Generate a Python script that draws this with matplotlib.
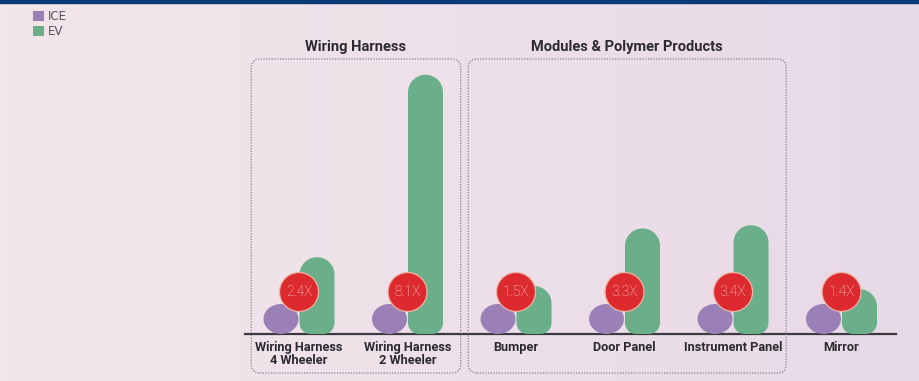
import numpy as np
import matplotlib.pyplot as plt
from matplotlib.patches import Ellipse, PathPatch, FancyBboxPatch, Patch
from matplotlib.path import Path

# data: ICE content normalised to 1, EV content as a multiple of ICE
categories = [
    "Wiring Harness\n4 Wheeler",
    "Wiring Harness\n2 Wheeler",
    "Bumper",
    "Door Panel",
    "Instrument Panel",
    "Mirror",
]
ice_values = [1.0, 1.0, 1.0, 1.0, 1.0, 1.0]
ev_values = [2.4, 8.1, 1.5, 3.3, 3.4, 1.4]
ratio_labels = ["2.4X", "8.1X", "1.5X", "3.3X", "3.4X", "1.4X"]
groups = [("Wiring Harness", 0, 1), ("Modules & Polymer Products", 2, 4)]

ICE_COLOR = "#9a80b6"
EV_COLOR = "#6aae8a"
RED = "#dd2a2e"
TEXT = "#2a2a30"

W, H = 919, 381
# one category step = 108.5 px, one value unit = 32 px, baseline at y=334 px
SX, SY = 108.5, 32.0
X0, Y0 = 299.0, 334.0

fig = plt.figure(figsize=(W / 100, H / 100), dpi=100)
ax = fig.add_axes([0, 0, 1, 1])
ax.set_xlim(-X0 / SX, (W - X0) / SX)
ax.set_ylim(-(H - Y0) / SY, Y0 / SY)
ax.axis("off")

# soft background gradient
grad = np.linspace(0, 1, 256)[None, :]
c1 = np.array([0.953, 0.902, 0.918])
c2 = np.array([0.906, 0.855, 0.906])
img = c1[None, None, :] * (1 - grad[..., None]) + c2[None, None, :] * grad[..., None]
ax.imshow(img, extent=[0, 1, 0, 1], transform=ax.transAxes, aspect="auto", zorder=0)

# dark top rule
fig.patches.append(plt.Rectangle((0, 1 - 2.5 / H), 1, 2.5 / H, transform=fig.transFigure,
                                 color="#0b3a78", zorder=10))


def capsule(cx, width, height, r_top, r_bot):
    """Bar with a rounded top (semi-ellipse) and rounded bottom corners."""
    rx = width / 2
    ry_t = min(r_top, height / 2)
    rbx, rby = r_bot
    pts = []
    t = np.linspace(np.pi, 1.5 * np.pi, 12)
    pts += list(zip(cx - rx + rbx + rbx * np.cos(t), rby + rby * np.sin(t)))
    t = np.linspace(1.5 * np.pi, 2 * np.pi, 12)
    pts += list(zip(cx + rx - rbx + rbx * np.cos(t), rby + rby * np.sin(t)))
    t = np.linspace(0, np.pi, 40)
    pts += list(zip(cx + rx * np.cos(t), height - ry_t + ry_t * np.sin(t)))
    pts.append(pts[0])
    codes = [Path.MOVETO] + [Path.LINETO] * (len(pts) - 2) + [Path.CLOSEPOLY]
    return Path(pts, codes)


bar_w = 35 / SX
half_gap = 18 / SX
ice_h = 30 / SY
for i, (ice, ev, lab) in enumerate(zip(ice_values, ev_values, ratio_labels)):
    ax.add_patch(Ellipse((i - half_gap, ice * ice_h / 2), bar_w, ice * ice_h,
                         facecolor=ICE_COLOR, edgecolor="none", zorder=3))
    path = capsule(i + half_gap, bar_w, ev, 17.5 / SY, (11 / SX, 11 / SY))
    ax.add_patch(PathPatch(path, facecolor=EV_COLOR, edgecolor="none", zorder=3))
    ax.add_patch(Ellipse((i, 42 / SY), 39 / SX, 39 / SY, facecolor=RED,
                         edgecolor="#f0b4a4", linewidth=0.9, zorder=4))
    ax.text(i, 42 / SY, lab, ha="center", va="center", fontsize=10,
            color="#f9d6d6", family="Roboto", weight="light", zorder=5)

# baseline
ax.plot([-0.5, len(categories) - 0.5], [0, 0], color="#3a3a40", linewidth=1.6, zorder=2)

# category labels
for i, cat in enumerate(categories):
    ax.text(i, -7 / SY, cat, ha="center", va="top", fontsize=9.2, weight="bold",
            family="Roboto", color=TEXT, linespacing=0.95, zorder=5)

# group boxes and titles
box_top = (Y0 - 59) / SY
box_bot = -(373 - Y0) / SY
for title, a, b in groups:
    left = a - 0.44
    right = b + 0.49
    box = FancyBboxPatch((left, box_bot), right - left, box_top - box_bot,
                         boxstyle="round,pad=0,rounding_size=0.08",
                         mutation_aspect=SX / SY,
                         facecolor="none", edgecolor="#8a7e92", linewidth=0.9,
                         linestyle=(0, (1, 1.2)), zorder=2)
    ax.add_patch(box)
    ax.text((left + right) / 2, (Y0 - 47) / SY, title, ha="center", va="center",
            fontsize=10.5, weight="bold", family="Roboto", color=TEXT)

# legend
handles = [Patch(facecolor=ICE_COLOR, edgecolor="none", label="ICE"),
           Patch(facecolor=EV_COLOR, edgecolor="none", label="EV")]
leg = fig.legend(handles=handles, loc="upper left", bbox_to_anchor=(33 / W, 1 - 10 / H),
                 frameon=False, handlelength=0.9, handleheight=0.9, fontsize=8.5,
                 handletextpad=0.4, labelspacing=0.15, borderpad=0, borderaxespad=0)
for t in leg.get_texts():
    t.set_color("#555560")

fig.savefig("out.png", dpi=100)
